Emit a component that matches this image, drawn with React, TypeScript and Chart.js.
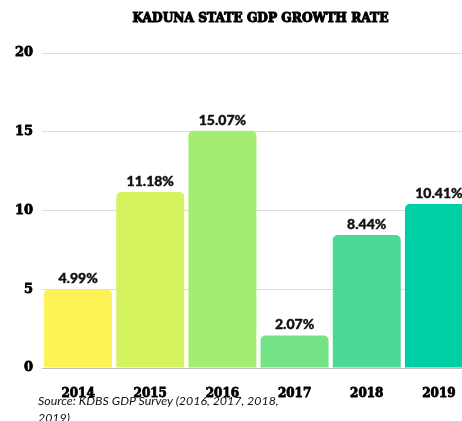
import React, { useEffect, useRef } from "react";
import { Chart, registerables } from "chart.js";

Chart.register(...registerables);

const title = "KADUNA STATE GDP GROWTH RATE";
const years = ["2014", "2015", "2016", "2017", "2018", "2019"];
const growth = [4.99, 11.18, 15.07, 2.07, 8.44, 10.41];
const barColors = ["#FFF257", "#D4F35E", "#A3EE70", "#73E385", "#4ADA96", "#00CFA6"];
const yTicks = [0, 5, 10, 15, 20];
const source = "Source: KDBS GDP Survey (2016, 2017, 2018, 2019)";

const serif = "'DejaVu Serif', serif";

const labelPlugin = {
  id: "valueLabels",
  afterDatasetsDraw(chart: any) {
    const ctx = chart.ctx;
    const meta = chart.getDatasetMeta(0);
    ctx.save();
    ctx.font = "900 14px Lato, sans-serif";
    ctx.fillStyle = "#111";
    ctx.strokeStyle = "#111";
    ctx.lineWidth = 0.4;
    ctx.textAlign = "center";
    ctx.textBaseline = "alphabetic";
    meta.data.forEach((bar: any, i: number) => {
      const t = growth[i].toFixed(2) + "%";
      ctx.fillText(t, bar.x, bar.y - 6);
      ctx.strokeText(t, bar.x, bar.y - 6);
    });
    ctx.restore();
  },
};

const titlePlugin = {
  id: "customTitle",
  afterDraw(chart: any) {
    const ctx = chart.ctx;
    const { left, right } = chart.chartArea;
    ctx.save();
    ctx.font = "bold 13px " + serif;
    ctx.fillStyle = "#000";
    ctx.strokeStyle = "#000";
    ctx.lineWidth = 1.1;
    ctx.textAlign = "center";
    ctx.textBaseline = "middle";
    const cx = (left + right) / 2 + 2;
    const w = ctx.measureText(title).width;
    const target = 256;
    ctx.translate(cx, 19);
    ctx.scale(target / w, 1);
    ctx.fillText(title, 0, 0);
    ctx.strokeText(title, 0, 0);
    ctx.restore();
  },
};

export default function App() {
  const ref = useRef<HTMLCanvasElement>(null);
  useEffect(() => {
    if (!ref.current) return;
    const chart = new Chart(ref.current, {
      type: "bar",
      data: {
        labels: years,
        datasets: [
          {
            data: growth,
            backgroundColor: barColors,
            borderRadius: 5,
            barPercentage: 0.942,
            categoryPercentage: 1,
          },
        ],
      },
      options: {
        responsive: false,
        animation: false,
        layout: { padding: { top: 53, right: 5, left: 0, bottom: 0 } },
        plugins: {
          legend: { display: false },
          tooltip: { enabled: false },
          title: { display: false },
        },
        scales: {
          x: {
            grid: { display: false },
            border: { display: false },
            ticks: {
              color: "#000",
              font: { family: serif, size: 12, weight: "bold" },
              padding: 11,
              textStrokeColor: "#000",
              textStrokeWidth: 0.8,
            },
            afterFit: (s: any) => {
              s.height = 53;
            },
          },
          y: {
            min: 0,
            max: 20,
            afterBuildTicks: (s: any) => {
              s.ticks = yTicks.map((v) => ({ value: v }));
            },
            grid: {
              color: (c: any) => (c.tick && c.tick.value === 0 ? "#bdbdbd" : "#dcdcdc"),
              drawTicks: false,
              lineWidth: 1,
            },
            border: { display: false },
            ticks: {
              color: "#000",
              font: { family: serif, size: 13, weight: "bold" },
              padding: 9,
              textStrokeColor: "#000",
              textStrokeWidth: 0.8,
            },
            afterFit: (s: any) => {
              s.width = 42;
            },
          },
        },
      },
      plugins: [labelPlugin, titlePlugin],
    });
    return () => chart.destroy();
  }, []);

  return (
    <div
      style={{
        position: "fixed",
        left: 0,
        top: 0,
        width: 462,
        height: 421,
        overflow: "hidden",
        background: "#fff",
      }}
    >
      <canvas ref={ref} width={480} height={421} style={{ width: 480, height: 421, display: "block" }} />
      <div
        style={{
          position: "absolute",
          left: 38,
          top: 393,
          width: 260,
          fontFamily: "Lato, sans-serif",
          fontStyle: "italic",
          fontSize: 12.4,
          lineHeight: "16.5px",
          color: "#111",
        }}
      >
        {source}
      </div>
    </div>
  );
}
